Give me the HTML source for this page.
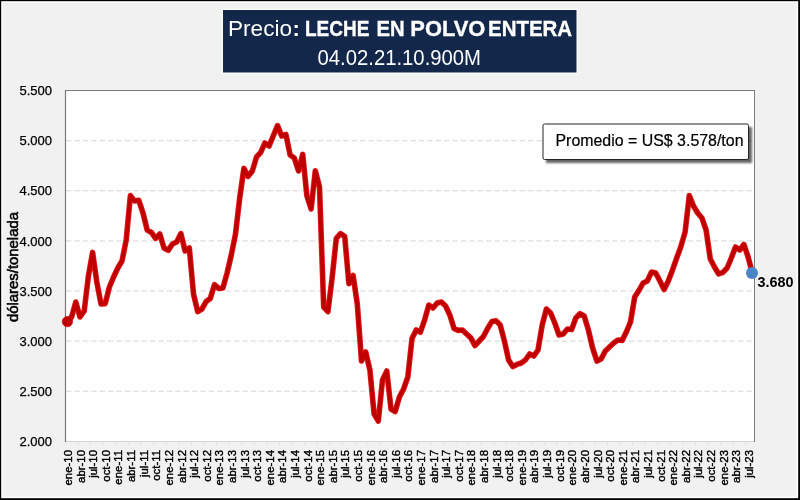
<!DOCTYPE html>
<html><head><meta charset="utf-8"><title>Precio: LECHE EN POLVO ENTERA</title>
<style>
html,body{margin:0;padding:0;width:800px;height:500px;overflow:hidden;background:#000;}
#frame{position:absolute;left:1px;top:1px;width:794px;height:494px;border:1.5px solid #fff;background:#f2f2f2;}
svg{position:absolute;left:0;top:0;opacity:0.999;will-change:transform;}
text{font-family:"Liberation Sans",sans-serif;}
</style></head><body>
<svg width="800" height="500" viewBox="0 0 800 500">
<defs>
<filter id="sh" x="-5%" y="-20%" width="115%" height="150%"><feGaussianBlur stdDeviation="1.2"/></filter>
</defs>
<rect x="0" y="0" width="800" height="500" fill="#000"/>
<rect x="1.2" y="1.2" width="797" height="497" fill="#fff"/>
<rect x="3" y="3" width="793.6" height="493.6" fill="#f2f2f2"/>
<!-- title -->
<rect x="221.8" y="8.8" width="356" height="65" fill="#fff"/>
<rect x="223" y="10" width="353.5" height="62.5" fill="#14284b"/>
<g fill="#fff" font-size="22">
<text x="228" y="36.2" textLength="64" lengthAdjust="spacingAndGlyphs">Precio</text>
<text x="292.5" y="36.2" font-weight="bold">:</text>
<g font-weight="bold" stroke="#fff" stroke-width="0.35"><text x="305" y="36.2" textLength="64.5" lengthAdjust="spacingAndGlyphs">LECHE</text><text x="376.4" y="36.2" textLength="28.2" lengthAdjust="spacingAndGlyphs">EN</text><text x="410.3" y="36.2" textLength="75" lengthAdjust="spacingAndGlyphs">POLVO</text><text x="488" y="36.2" textLength="84.1" lengthAdjust="spacingAndGlyphs">ENTERA</text></g>
<text x="317.5" y="65" font-size="21.3" textLength="163.5" lengthAdjust="spacingAndGlyphs">04.02.21.10.900M</text>
</g>
<!-- plot -->
<rect x="65.5" y="90.5" width="689" height="351" fill="#fff" stroke="#d4d4d4" stroke-width="1"/>
<g stroke="#d9d9d9" stroke-width="1" stroke-dasharray="5.5 2.9"><line x1="66" x2="754" y1="140.7" y2="140.7"/><line x1="66" x2="754" y1="190.8" y2="190.8"/><line x1="66" x2="754" y1="240.9" y2="240.9"/><line x1="66" x2="754" y1="291.0" y2="291.0"/><line x1="66" x2="754" y1="341.1" y2="341.1"/><line x1="66" x2="754" y1="391.2" y2="391.2"/></g>
<line x1="65" x2="755" y1="90.5" y2="90.5" stroke="#7c7c7c" stroke-width="1"/>
<line x1="754.5" x2="754.5" y1="90" y2="442" stroke="#7c7c7c" stroke-width="1"/>
<line x1="65.5" x2="65.5" y1="90" y2="442" stroke="#7a7a7a" stroke-width="1.2"/>
<g stroke="#e4e4e4" stroke-width="1"><line x1="65.3" x2="65.3" y1="442" y2="445"/><line x1="77.9" x2="77.9" y1="442" y2="445"/><line x1="90.5" x2="90.5" y1="442" y2="445"/><line x1="103.1" x2="103.1" y1="442" y2="445"/><line x1="115.7" x2="115.7" y1="442" y2="445"/><line x1="128.3" x2="128.3" y1="442" y2="445"/><line x1="140.9" x2="140.9" y1="442" y2="445"/><line x1="153.5" x2="153.5" y1="442" y2="445"/><line x1="166.1" x2="166.1" y1="442" y2="445"/><line x1="178.8" x2="178.8" y1="442" y2="445"/><line x1="191.4" x2="191.4" y1="442" y2="445"/><line x1="204.0" x2="204.0" y1="442" y2="445"/><line x1="216.6" x2="216.6" y1="442" y2="445"/><line x1="229.2" x2="229.2" y1="442" y2="445"/><line x1="241.8" x2="241.8" y1="442" y2="445"/><line x1="254.4" x2="254.4" y1="442" y2="445"/><line x1="267.0" x2="267.0" y1="442" y2="445"/><line x1="279.6" x2="279.6" y1="442" y2="445"/><line x1="292.2" x2="292.2" y1="442" y2="445"/><line x1="304.8" x2="304.8" y1="442" y2="445"/><line x1="317.4" x2="317.4" y1="442" y2="445"/><line x1="330.0" x2="330.0" y1="442" y2="445"/><line x1="342.6" x2="342.6" y1="442" y2="445"/><line x1="355.2" x2="355.2" y1="442" y2="445"/><line x1="367.8" x2="367.8" y1="442" y2="445"/><line x1="380.4" x2="380.4" y1="442" y2="445"/><line x1="393.1" x2="393.1" y1="442" y2="445"/><line x1="405.7" x2="405.7" y1="442" y2="445"/><line x1="418.3" x2="418.3" y1="442" y2="445"/><line x1="430.9" x2="430.9" y1="442" y2="445"/><line x1="443.5" x2="443.5" y1="442" y2="445"/><line x1="456.1" x2="456.1" y1="442" y2="445"/><line x1="468.7" x2="468.7" y1="442" y2="445"/><line x1="481.3" x2="481.3" y1="442" y2="445"/><line x1="493.9" x2="493.9" y1="442" y2="445"/><line x1="506.5" x2="506.5" y1="442" y2="445"/><line x1="519.1" x2="519.1" y1="442" y2="445"/><line x1="531.7" x2="531.7" y1="442" y2="445"/><line x1="544.3" x2="544.3" y1="442" y2="445"/><line x1="556.9" x2="556.9" y1="442" y2="445"/><line x1="569.5" x2="569.5" y1="442" y2="445"/><line x1="582.1" x2="582.1" y1="442" y2="445"/><line x1="594.8" x2="594.8" y1="442" y2="445"/><line x1="607.4" x2="607.4" y1="442" y2="445"/><line x1="620.0" x2="620.0" y1="442" y2="445"/><line x1="632.6" x2="632.6" y1="442" y2="445"/><line x1="645.2" x2="645.2" y1="442" y2="445"/><line x1="657.8" x2="657.8" y1="442" y2="445"/><line x1="670.4" x2="670.4" y1="442" y2="445"/><line x1="683.0" x2="683.0" y1="442" y2="445"/><line x1="695.6" x2="695.6" y1="442" y2="445"/><line x1="708.2" x2="708.2" y1="442" y2="445"/><line x1="720.8" x2="720.8" y1="442" y2="445"/><line x1="733.4" x2="733.4" y1="442" y2="445"/><line x1="746.0" x2="746.0" y1="442" y2="445"/></g>
<g font-size="13" fill="#000" stroke="#000" stroke-width="0.25"><text x="52" y="95.2" text-anchor="end">5.500</text><text x="52" y="145.3" text-anchor="end">5.000</text><text x="52" y="195.4" text-anchor="end">4.500</text><text x="52" y="245.5" text-anchor="end">4.000</text><text x="52" y="295.6" text-anchor="end">3.500</text><text x="52" y="345.7" text-anchor="end">3.000</text><text x="52" y="395.8" text-anchor="end">2.500</text><text x="52" y="445.9" text-anchor="end">2.000</text></g>
<g font-size="11.4" fill="#000" stroke="#000" stroke-width="0.4"><text transform="translate(72.0,450) rotate(-90)" text-anchor="end">ene-10</text><text transform="translate(84.6,450) rotate(-90)" text-anchor="end">abr-10</text><text transform="translate(97.2,450) rotate(-90)" text-anchor="end">jul-10</text><text transform="translate(109.8,450) rotate(-90)" text-anchor="end">oct-10</text><text transform="translate(122.4,450) rotate(-90)" text-anchor="end">ene-11</text><text transform="translate(135.0,450) rotate(-90)" text-anchor="end">abr-11</text><text transform="translate(147.6,450) rotate(-90)" text-anchor="end">jul-11</text><text transform="translate(160.2,450) rotate(-90)" text-anchor="end">oct-11</text><text transform="translate(172.8,450) rotate(-90)" text-anchor="end">ene-12</text><text transform="translate(185.5,450) rotate(-90)" text-anchor="end">abr-12</text><text transform="translate(198.1,450) rotate(-90)" text-anchor="end">jul-12</text><text transform="translate(210.7,450) rotate(-90)" text-anchor="end">oct-12</text><text transform="translate(223.3,450) rotate(-90)" text-anchor="end">ene-13</text><text transform="translate(235.9,450) rotate(-90)" text-anchor="end">abr-13</text><text transform="translate(248.5,450) rotate(-90)" text-anchor="end">jul-13</text><text transform="translate(261.1,450) rotate(-90)" text-anchor="end">oct-13</text><text transform="translate(273.7,450) rotate(-90)" text-anchor="end">ene-14</text><text transform="translate(286.3,450) rotate(-90)" text-anchor="end">abr-14</text><text transform="translate(298.9,450) rotate(-90)" text-anchor="end">jul-14</text><text transform="translate(311.5,450) rotate(-90)" text-anchor="end">oct-14</text><text transform="translate(324.1,450) rotate(-90)" text-anchor="end">ene-15</text><text transform="translate(336.7,450) rotate(-90)" text-anchor="end">abr-15</text><text transform="translate(349.3,450) rotate(-90)" text-anchor="end">jul-15</text><text transform="translate(361.9,450) rotate(-90)" text-anchor="end">oct-15</text><text transform="translate(374.5,450) rotate(-90)" text-anchor="end">ene-16</text><text transform="translate(387.1,450) rotate(-90)" text-anchor="end">abr-16</text><text transform="translate(399.8,450) rotate(-90)" text-anchor="end">jul-16</text><text transform="translate(412.4,450) rotate(-90)" text-anchor="end">oct-16</text><text transform="translate(425.0,450) rotate(-90)" text-anchor="end">ene-17</text><text transform="translate(437.6,450) rotate(-90)" text-anchor="end">abr-17</text><text transform="translate(450.2,450) rotate(-90)" text-anchor="end">jul-17</text><text transform="translate(462.8,450) rotate(-90)" text-anchor="end">oct-17</text><text transform="translate(475.4,450) rotate(-90)" text-anchor="end">ene-18</text><text transform="translate(488.0,450) rotate(-90)" text-anchor="end">abr-18</text><text transform="translate(500.6,450) rotate(-90)" text-anchor="end">jul-18</text><text transform="translate(513.2,450) rotate(-90)" text-anchor="end">oct-18</text><text transform="translate(525.8,450) rotate(-90)" text-anchor="end">ene-19</text><text transform="translate(538.4,450) rotate(-90)" text-anchor="end">abr-19</text><text transform="translate(551.0,450) rotate(-90)" text-anchor="end">jul-19</text><text transform="translate(563.6,450) rotate(-90)" text-anchor="end">oct-19</text><text transform="translate(576.2,450) rotate(-90)" text-anchor="end">ene-20</text><text transform="translate(588.8,450) rotate(-90)" text-anchor="end">abr-20</text><text transform="translate(601.5,450) rotate(-90)" text-anchor="end">jul-20</text><text transform="translate(614.1,450) rotate(-90)" text-anchor="end">oct-20</text><text transform="translate(626.7,450) rotate(-90)" text-anchor="end">ene-21</text><text transform="translate(639.3,450) rotate(-90)" text-anchor="end">abr-21</text><text transform="translate(651.9,450) rotate(-90)" text-anchor="end">jul-21</text><text transform="translate(664.5,450) rotate(-90)" text-anchor="end">oct-21</text><text transform="translate(677.1,450) rotate(-90)" text-anchor="end">ene-22</text><text transform="translate(689.7,450) rotate(-90)" text-anchor="end">abr-22</text><text transform="translate(702.3,450) rotate(-90)" text-anchor="end">jul-22</text><text transform="translate(714.9,450) rotate(-90)" text-anchor="end">oct-22</text><text transform="translate(727.5,450) rotate(-90)" text-anchor="end">ene-23</text><text transform="translate(740.1,450) rotate(-90)" text-anchor="end">abr-23</text><text transform="translate(752.7,450) rotate(-90)" text-anchor="end">jul-23</text></g>
<text transform="translate(18.3,267) rotate(-90)" text-anchor="middle" font-size="14.2" fill="#000" stroke="#000" stroke-width="0.55" textLength="110" lengthAdjust="spacingAndGlyphs">dólares/tonelada</text>
<!-- series -->
<polyline points="67.4,321.6 71.6,317.0 75.8,302.0 80.0,317.0 84.2,311.0 88.4,276.0 92.6,252.4 96.8,282.0 101.0,304.0 105.2,303.6 109.4,287.0 113.6,277.0 117.8,268.0 122.0,261.0 126.2,240.0 130.4,195.6 134.6,201.0 138.8,200.3 143.0,213.0 147.2,230.0 151.4,232.4 155.6,238.4 159.8,234.0 164.0,248.0 168.2,250.4 172.4,244.0 176.7,242.0 180.9,233.6 185.1,251.0 189.3,248.0 193.5,294.0 197.7,311.6 201.9,309.0 206.1,301.6 210.3,298.4 214.5,284.6 218.7,288.4 222.9,288.0 227.1,273.0 231.3,255.0 235.5,234.0 239.7,198.0 243.9,168.4 248.1,176.4 252.3,171.0 256.5,157.0 260.7,152.4 264.9,143.0 269.1,146.0 273.3,135.8 277.5,125.6 281.7,136.0 285.9,134.4 290.1,155.0 294.3,158.0 298.5,171.0 302.7,154.4 306.9,196.0 311.1,209.0 315.3,170.8 319.5,187.0 323.7,307.0 327.9,311.6 332.1,278.0 336.3,238.4 340.5,233.6 344.7,236.4 348.9,283.6 353.1,275.5 357.3,304.0 361.5,361.0 365.7,352.0 369.9,370.0 374.1,414.0 378.3,421.0 382.5,380.0 386.8,371.0 391.0,409.0 395.2,411.6 399.4,397.0 403.6,389.0 407.8,377.0 412.0,338.5 416.2,330.0 420.4,332.2 424.6,320.0 428.8,305.0 433.0,308.0 437.2,303.0 441.4,302.0 445.6,306.0 449.8,315.0 454.0,328.4 458.2,330.4 462.4,330.0 466.6,334.0 470.8,337.8 475.0,345.6 479.2,341.0 483.4,336.5 487.6,328.5 491.8,321.6 496.0,320.8 500.2,325.0 504.4,341.0 508.6,360.0 512.8,366.6 517.0,364.4 521.2,363.0 525.4,360.0 529.6,354.0 533.8,356.0 538.0,350.0 542.2,325.0 546.4,309.0 550.6,313.0 554.8,323.0 559.0,335.0 563.2,334.0 567.4,329.0 571.6,329.6 575.8,318.0 580.0,313.6 584.2,316.0 588.4,330.0 592.6,348.0 596.9,361.0 601.1,359.0 605.3,351.0 609.5,347.0 613.7,343.0 617.9,340.0 622.1,340.4 626.3,332.0 630.5,322.0 634.7,297.0 638.9,290.5 643.1,283.0 647.3,281.0 651.5,272.0 655.7,273.0 659.9,281.0 664.1,289.6 668.3,281.0 672.5,270.0 676.7,258.0 680.9,246.5 685.1,232.0 689.3,195.6 693.5,206.0 697.7,213.0 701.9,218.0 706.1,230.0 710.3,259.0 714.5,267.0 718.7,274.0 722.9,272.4 727.1,268.0 731.3,258.0 735.5,247.0 739.7,250.0 743.9,244.4 748.1,257.0 752.3,273.0" fill="none" stroke="#e01818" stroke-width="5.6" stroke-linejoin="round" stroke-linecap="round"/>
<polyline points="67.4,321.6 71.6,317.0 75.8,302.0 80.0,317.0 84.2,311.0 88.4,276.0 92.6,252.4 96.8,282.0 101.0,304.0 105.2,303.6 109.4,287.0 113.6,277.0 117.8,268.0 122.0,261.0 126.2,240.0 130.4,195.6 134.6,201.0 138.8,200.3 143.0,213.0 147.2,230.0 151.4,232.4 155.6,238.4 159.8,234.0 164.0,248.0 168.2,250.4 172.4,244.0 176.7,242.0 180.9,233.6 185.1,251.0 189.3,248.0 193.5,294.0 197.7,311.6 201.9,309.0 206.1,301.6 210.3,298.4 214.5,284.6 218.7,288.4 222.9,288.0 227.1,273.0 231.3,255.0 235.5,234.0 239.7,198.0 243.9,168.4 248.1,176.4 252.3,171.0 256.5,157.0 260.7,152.4 264.9,143.0 269.1,146.0 273.3,135.8 277.5,125.6 281.7,136.0 285.9,134.4 290.1,155.0 294.3,158.0 298.5,171.0 302.7,154.4 306.9,196.0 311.1,209.0 315.3,170.8 319.5,187.0 323.7,307.0 327.9,311.6 332.1,278.0 336.3,238.4 340.5,233.6 344.7,236.4 348.9,283.6 353.1,275.5 357.3,304.0 361.5,361.0 365.7,352.0 369.9,370.0 374.1,414.0 378.3,421.0 382.5,380.0 386.8,371.0 391.0,409.0 395.2,411.6 399.4,397.0 403.6,389.0 407.8,377.0 412.0,338.5 416.2,330.0 420.4,332.2 424.6,320.0 428.8,305.0 433.0,308.0 437.2,303.0 441.4,302.0 445.6,306.0 449.8,315.0 454.0,328.4 458.2,330.4 462.4,330.0 466.6,334.0 470.8,337.8 475.0,345.6 479.2,341.0 483.4,336.5 487.6,328.5 491.8,321.6 496.0,320.8 500.2,325.0 504.4,341.0 508.6,360.0 512.8,366.6 517.0,364.4 521.2,363.0 525.4,360.0 529.6,354.0 533.8,356.0 538.0,350.0 542.2,325.0 546.4,309.0 550.6,313.0 554.8,323.0 559.0,335.0 563.2,334.0 567.4,329.0 571.6,329.6 575.8,318.0 580.0,313.6 584.2,316.0 588.4,330.0 592.6,348.0 596.9,361.0 601.1,359.0 605.3,351.0 609.5,347.0 613.7,343.0 617.9,340.0 622.1,340.4 626.3,332.0 630.5,322.0 634.7,297.0 638.9,290.5 643.1,283.0 647.3,281.0 651.5,272.0 655.7,273.0 659.9,281.0 664.1,289.6 668.3,281.0 672.5,270.0 676.7,258.0 680.9,246.5 685.1,232.0 689.3,195.6 693.5,206.0 697.7,213.0 701.9,218.0 706.1,230.0 710.3,259.0 714.5,267.0 718.7,274.0 722.9,272.4 727.1,268.0 731.3,258.0 735.5,247.0 739.7,250.0 743.9,244.4 748.1,257.0 752.3,273.0" fill="none" stroke="#c00000" stroke-width="3.7" stroke-linejoin="round" stroke-linecap="round"/>
<circle cx="67.4" cy="321.6" r="5.2" fill="#c00000" stroke="#d81010" stroke-width="0.8"/>
<circle cx="752" cy="273" r="6" fill="#4a86c8"/>
<text x="757.5" y="286.6" font-size="14" font-weight="bold" fill="#000" textLength="36" lengthAdjust="spacingAndGlyphs">3.680</text>
<!-- average box -->
<rect x="546" y="127" width="206" height="36" fill="#000" opacity="0.6" filter="url(#sh)"/>
<rect x="543" y="124" width="205.5" height="35.5" rx="1.5" fill="#fff" stroke="#262626" stroke-width="1"/>
<text x="555.5" y="146.3" font-size="16.5" fill="#000" stroke="#000" stroke-width="0.2" textLength="188" lengthAdjust="spacingAndGlyphs">Promedio = US$ 3.578/ton</text>
</svg>
</body></html>
